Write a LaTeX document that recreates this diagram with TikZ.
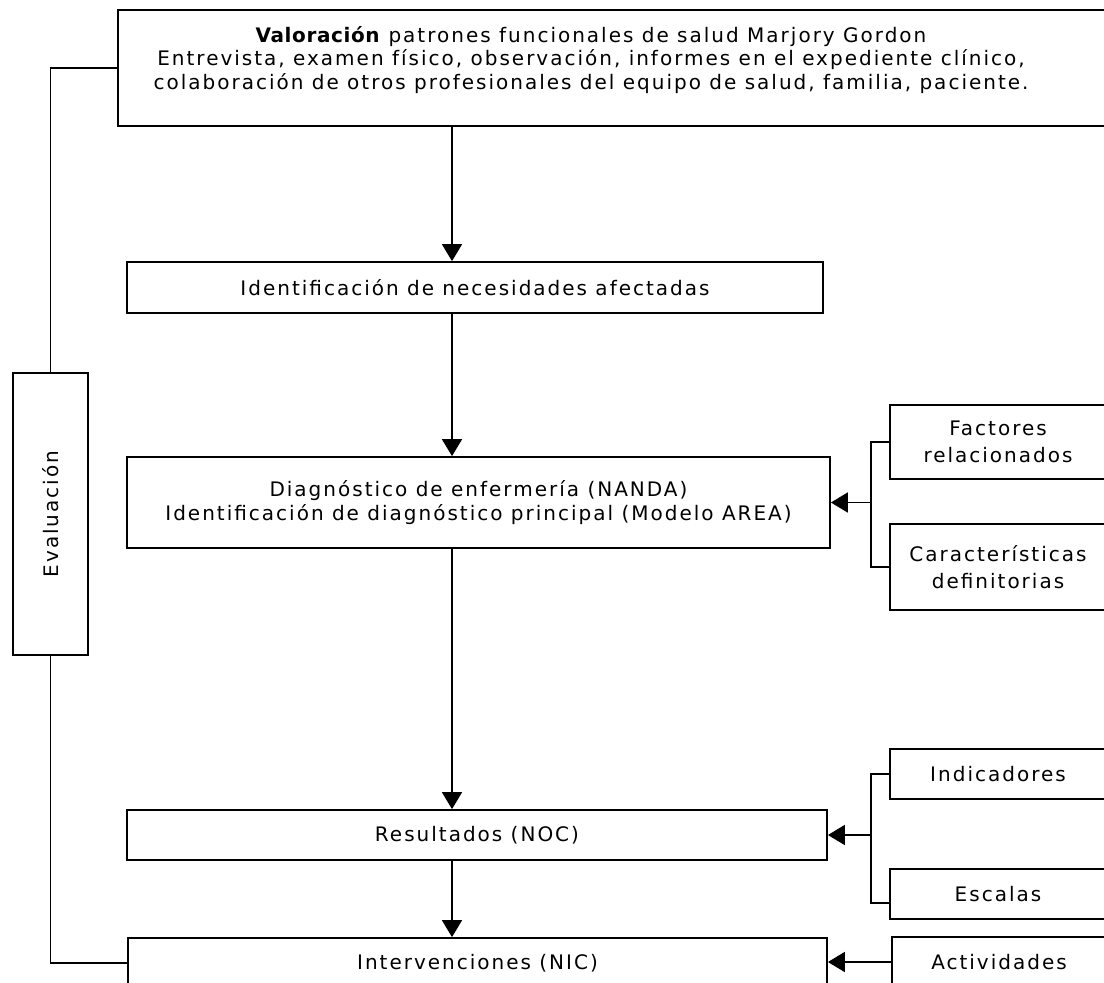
\documentclass[tikz,border=0pt]{standalone}
\usepackage{fontspec}
\setmainfont[LetterSpace=10, BoldFeatures={LetterSpace=3}]{DejaVu Sans}
\usetikzlibrary{arrows.meta,calc}

\tikzset{
  caja/.style={draw, line width=1.8pt, inner sep=0pt, align=center,
    font=\fontsize{20}{24}\selectfont},
  lado/.style={caja, font=\fontsize{20}{27}\selectfont},
  texto/.style={inner sep=0pt, align=center, font=\fontsize{20}{23.5}\selectfont},
}

\begin{document}
\begin{tikzpicture}[x=1pt, y=-1pt, line width=1.8pt,
    >={Triangle[length=17pt,width=20pt]}]
  \useasboundingbox (0,0) rectangle (1104,983);
  \clip (0,0) rectangle (1104,983);
  % ------- central column -------
  \node[caja, minimum width=988pt, minimum height=116pt] (valor) at (612,68) {};
  \node[texto] (valortxt) at (591,60)
    {\textbf{Valoración} patrones funcionales de salud Marjory Gordon\\
     Entrevista, examen físico, observación, informes en el expediente clínico,\\
     colaboración de otros profesionales del equipo de salud, familia, paciente.};
  \node[caja, minimum width=696pt, minimum height=51pt] (ident) at (475,287.5)
    {Identificación de necesidades afectadas};
  \node[caja, minimum width=703pt, minimum height=91pt] (diag) at (478.5,502.5)
    {Diagnóstico de enfermería (NANDA)\\
     Identificación de diagnóstico principal (Modelo AREA)};
  \node[caja, minimum width=700pt, minimum height=50pt] (result) at (477,835)
    {Resultados (NOC)};
  \node[caja, minimum width=699pt, minimum height=50pt] (interv) at (477.5,963)
    {Intervenciones (NIC)};
  \coordinate (ax) at (452,0);
  \draw[->] (valor.south -| ax) -- (ident.north -| ax);
  \draw[->] (ident.south -| ax) -- (diag.north -| ax);
  \draw[->] (diag.south -| ax) -- (result.north -| ax);
  \draw[->] (result.south -| ax) -- (interv.north -| ax);
  % ------- evaluation loop -------
  \node[caja, minimum width=75pt, minimum height=282pt] (eval) at (50.5,514)
    {\rotatebox{90}{Evaluación}};
  \draw (valor.west) -| (eval.north);
  \draw (eval.south) |- (interv.west);
  % ------- right side -------
  \node[lado, minimum width=216pt, minimum height=74pt] (factores) at (998,442)
    {Factores\\relacionados};
  \node[lado, minimum width=216pt, minimum height=86pt] (caract) at (998,567)
    {Características\\definitorias};
  \node[lado, minimum width=216pt, minimum height=50pt] (indic) at (998,774)
    {Indicadores};
  \node[lado, minimum width=216pt, minimum height=50pt] (escalas) at (998,894)
    {Escalas};
  \node[lado, minimum width=214pt, minimum height=50pt] (activ) at (999,962)
    {Actividades};
  \coordinate (fb) at ($(diag.east)+(40,0)$);
  \coordinate (rb) at ($(result.east)+(43,0)$);
  \draw (factores.west) -| (fb) |- (caract.west);
  \draw[->] (fb) -- (diag.east);
  \draw (indic.west) -| (rb) |- ($(escalas.west)+(0,9)$);
  \draw[->] (rb) -- (result.east);
  \draw[->] (activ.west) -- (activ.west -| interv.east);
\end{tikzpicture}
\end{document}
